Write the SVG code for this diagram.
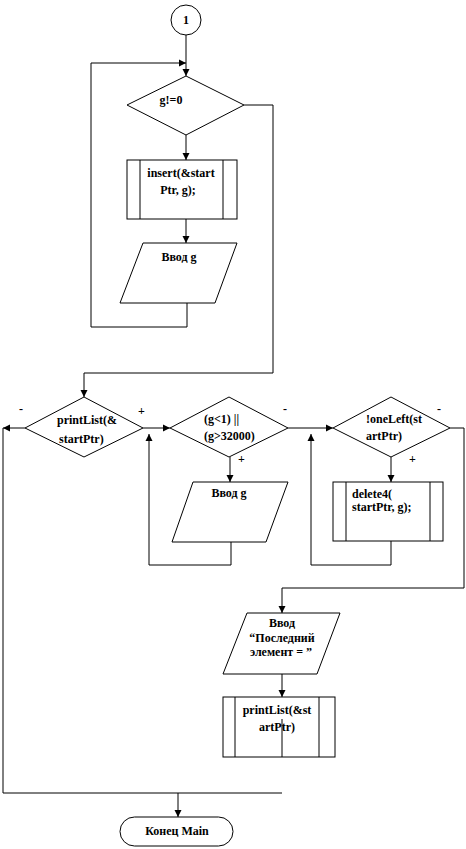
<svg xmlns="http://www.w3.org/2000/svg" width="466" height="849" viewBox="0 0 466 849">
<defs>
<marker id="ah" markerWidth="8" markerHeight="8" refX="7" refY="4" orient="auto" markerUnits="userSpaceOnUse">
<path d="M0,0.5 L7,4 L0,7.5 Z" fill="#000"/>
</marker>
<style>
.s{fill:#fff;stroke:#000;stroke-width:1}
.c{fill:none;stroke:#000;stroke-width:1}
.t{font-family:"Liberation Serif","Times New Roman",serif;font-weight:bold;font-size:12px;fill:#000}
.m{text-anchor:middle}
</style>
</defs>
<rect width="466" height="849" fill="#fff"/>
<g id="start">
<circle class="s" cx="186" cy="20" r="15"/>
<text class="t m" x="186" y="24">1</text>
</g>
<g id="cond1">
<polygon class="s" points="186,76 244,105 186,135 127,105"/>
<text class="t m" x="171" y="104">g!=0</text>
</g>
<g id="insert">
<rect class="s" x="127" y="160" width="110" height="59"/>
<line class="c" x1="140" y1="160" x2="140" y2="219"/>
<line class="c" x1="223" y1="160" x2="223" y2="219"/>
<text class="t m" x="181" y="177">insert(&amp;start</text>
<text class="t m" x="178" y="194">Ptr, g);</text>
</g>
<g id="input1">
<polygon class="s" points="143,243 237,243 215,303 120,303"/>
<text class="t m" x="179" y="261">Ввод g</text>
</g>
<g id="cond2">
<polygon class="s" points="84,397 143,428 84,457 25,428"/>
<text class="t" x="57" y="424">printList(&amp;</text>
<text class="t" x="59" y="443">startPtr)</text>
<text class="t" x="19" y="413">-</text>
<text class="t" x="138" y="415">+</text>
</g>
<g id="cond3">
<polygon class="s" points="229,397 288,428 229,457 170,428"/>
<text class="t" x="204" y="423">(g&lt;1) ||</text>
<text class="t" x="204" y="440">(g&gt;32000)</text>
<text class="t" x="283" y="413">-</text>
<text class="t" x="238" y="463">+</text>
</g>
<g id="input2">
<polygon class="s" points="193,482 288,482 266,542 172,542"/>
<text class="t m" x="229" y="497">Ввод g</text>
</g>
<g id="cond4">
<polygon class="s" points="391,397 450,428 391,457 333,428"/>
<text class="t" x="366" y="423">!oneLeft(st</text>
<text class="t" x="366" y="440">artPtr)</text>
<text class="t" x="437" y="413">-</text>
<text class="t" x="409" y="463">+</text>
</g>
<g id="delete">
<rect class="s" x="333" y="482" width="110" height="59"/>
<line class="c" x1="346" y1="482" x2="346" y2="541"/>
<line class="c" x1="430" y1="482" x2="430" y2="541"/>
<text class="t" x="352" y="498">delete4(</text>
<text class="t" x="352" y="511">startPtr, g);</text>
</g>
<g id="input3">
<polygon class="s" points="247,613 340,613 317,674 223,674"/>
<text class="t m" x="282" y="627">Ввод</text>
<text class="t m" x="282" y="642">“Последний</text>
<text class="t m" x="281" y="656">элемент = ”</text>
</g>
<g id="print">
<rect class="s" x="223" y="697" width="112" height="60"/>
<line class="c" x1="235" y1="697" x2="235" y2="757"/>
<line class="c" x1="319" y1="697" x2="319" y2="757"/>
<text class="t m" x="277" y="714">printList(&amp;st</text>
<text class="t m" x="277" y="731">artPtr)</text>
</g>
<g id="end">
<rect class="s" x="120" y="817" width="113" height="29" rx="14.5" ry="14.5"/>
<text class="t m" x="177" y="835">Конец Main</text>
</g>
<g id="connectors">
<path class="c" d="M186,35 V76" marker-end="url(#ah)"/>
<path class="c" d="M187,303 V327 H91 V63 H186" marker-end="url(#ah)"/>
<path class="c" d="M186,135 V160" marker-end="url(#ah)"/>
<path class="c" d="M186,219 V243" marker-end="url(#ah)"/>
<path class="c" d="M244,105 H273 V373 H84 V397" marker-end="url(#ah)"/>
<path class="c" d="M25,428 H3" marker-end="url(#ah)"/>
<path class="c" d="M3,428 V793 H282"/>
<path class="c" d="M178,793 V817" marker-end="url(#ah)"/>
<path class="c" d="M143,428 H170" marker-end="url(#ah)"/>
<path class="c" d="M231,542 V565 H149 V434" marker-end="url(#ah)"/>
<path class="c" d="M230,457 V482" marker-end="url(#ah)"/>
<path class="c" d="M288,428 H333" marker-end="url(#ah)"/>
<path class="c" d="M391,541 V565 H311 V434" marker-end="url(#ah)"/>
<path class="c" d="M391,457 V482" marker-end="url(#ah)"/>
<path class="c" d="M450,428 H464 V588 H282 V613" marker-end="url(#ah)"/>
<path class="c" d="M282,674 V697" marker-end="url(#ah)"/>
<path class="c" d="M282,719 V757"/>
</g>
</svg>
